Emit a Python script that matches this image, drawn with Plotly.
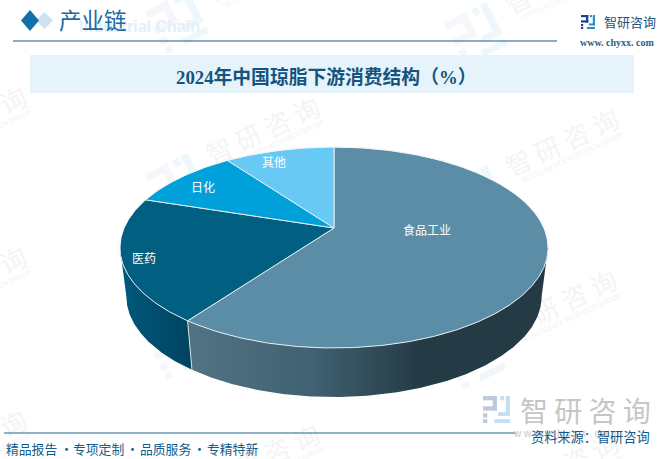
import numpy as np
import plotly.graph_objects as go

# data
categories = ["食品工业", "医药", "日化", "其他"]
shares = [60, 20, 10, 10]

top_colors = ["#5b8da7", "#015f82", "#00a1db", "#67c9f4"]
side_stops = [
    [[0, "#527384"], [0.35, "#3f6171"], [0.65, "#243a44"], [1, "#243a44"]],
    [[0, "#01587c"], [1, "#004361"]],
]
label_pos = [(427, 229), (144, 257), (203, 186), (274, 161)]

title = "2024年中国琼脂下游消费结构（%）"
slogans = ["精品报告", "专项定制", "品质服务", "专精特新"]
serif = "Liberation Serif, Noto Sans CJK SC"
sans = "Noto Sans CJK SC"

# tilted pie, perspective projection of a circle into page pixels
cx, cy = 334, 228
k = 0.194
ax, ay = 210, 96.7
depth = 49
shrink = 0.97


def rim(deg, lower=False):
    t = np.radians(deg)
    u, v = np.sin(t), np.cos(t)
    s = 1 + k * v
    x = ax * u / s
    y = ay * v / s
    if lower:
        return cx + x * shrink, cy - y + depth
    return cx + x, cy - y


def arc(a, b, lower=False):
    n = max(int(abs(b - a)), 2) * 2
    return rim(np.linspace(a, b, n), lower)


fig = go.Figure()
edges = np.cumsum([0] + shares) * 3.6

# visible wall of the cake
front_l = 360 - np.degrees(np.arccos(-k))
front_r = np.degrees(np.arccos(-k))
walls = [(front_r, edges[1]), (edges[1], front_l)]
for (a, b), stops in zip(walls, side_stops):
    xt, yt = arc(a, b)
    xb, yb = arc(b, a, True)
    fig.add_trace(go.Scatter(
        x=np.r_[xt, xb, xt[0]], y=np.r_[yt, yb, yt[0]], mode="lines",
        line=dict(width=0), fill="toself", hoverinfo="skip",
        fillgradient=dict(type="horizontal", colorscale=stops),
    ))

# seam between the two walls
x0, y0 = rim(edges[1])
x1, y1 = rim(edges[1], True)
fig.add_trace(go.Scatter(x=[x0, x1], y=[y0, y1], mode="lines", hoverinfo="skip",
                         line=dict(color="#d5dee3", width=1)))

# top face
for i, name in enumerate(categories):
    xs, ys = arc(edges[i], edges[i + 1])
    fig.add_trace(go.Scatter(
        x=np.r_[cx, xs, cx], y=np.r_[cy, ys, cy], mode="lines", name=name,
        line=dict(color="#e4ebef", width=1), fill="toself",
        fillcolor=top_colors[i], hoverinfo="skip",
    ))

# the upper half of the rim has no visible white stroke
xs, ys = arc(front_l, 360 + front_r)
fig.add_trace(go.Scatter(x=xs, y=ys, mode="lines", hoverinfo="skip",
                         line=dict(color="#ffffff", width=0.6)))

shapes = []
annos = []


def text(x, y, s, size, color, family=sans):
    annos.append(dict(x=x, y=y, text=s, showarrow=False, xanchor="center", yanchor="middle",
                      font=dict(size=size, color=color, family=family)))


def logo(x, y, size, c1, c2, angle=0, layer="above"):
    dark = [(0, 0, .52, .16), (.36, 0, .52, .54), (0, .38, .52, .54), (0, .64, .16, .8), (0, .86, .16, 1)]
    light = [(.64, 0, .78, .16), (.84, 0, 1, .74), (.56, .6, 1, .74), (.42, .86, 1, 1)]
    t = np.radians(angle)
    for rects, col in ((dark, c1), (light, c2)):
        for r in rects:
            pts = []
            for px, py in ((r[0], r[1]), (r[2], r[1]), (r[2], r[3]), (r[0], r[3])):
                dx, dy = (px - .5) * size, (py - .5) * size
                pts.append((x + dx * np.cos(t) - dy * np.sin(t), y + dx * np.sin(t) + dy * np.cos(t)))
            path = "M" + " L".join(f"{a:.1f},{b:.1f}" for a, b in pts) + " Z"
            shapes.append(dict(type="path", path=path, fillcolor=col, line_width=0, layer=layer))


# background watermarks
for wx, wy in [(-29, 123), (-29, 283), (-29, 446), (264, -30), (264, 133), (264, 296), (264, 460),
               (563, -18), (563, 145), (561, 306), (563, 469)]:
    logo(wx - 87, wy + 52, 48, "#f5f7fa", "#eef7fc", -27, "below")
    shapes.append(dict(type="rect", x0=wx - 70, x1=wx + 70, y0=wy - 70, y1=wy + 70, line_width=0,
                       layer="below", fillcolor="rgba(255,255,255,0)",
                       label=dict(text="智 研 咨 询", textangle=-25, textposition="middle center",
                                  font=dict(size=26, color="#f4f4f4", family=sans))))
    shapes.append(dict(type="rect", x0=wx - 60, x1=wx + 80, y0=wy - 50, y1=wy + 75,
                       line_width=0, layer="below", fillcolor="rgba(255,255,255,0)",
                       label=dict(text="INTELLIGENCE RESEARCH GROUP", textangle=-25,
                                  textposition="middle center",
                                  font=dict(size=7, color="#f2f2f2", family=sans))))

# header
shapes.append(dict(type="path", path="M36,20.5 L44.5,12 L53,20.5 L44.5,29 Z", fillcolor="#cfe3ef", line_width=0))
shapes.append(dict(type="path", path="M21,20.5 L30,10 L39,20.5 L30,31 Z", fillcolor="#1170ab", line_width=0))
shapes.append(dict(type="line", x0=13, x1=557, y0=41, y1=41, line=dict(color="#1a5a85", width=1)))
shapes.append(dict(type="rect", x0=30, x1=634, y0=55, y1=93, fillcolor="#e6f3fb", line_width=0, layer="below"))
text(139, 26, "<b>Industrial Chain</b>", 16, "#e3f0fa", "Liberation Sans")
text(93, 21, "产业链", 22.5, "#1c6aa3", serif)
text(326.5, 77, "<b>" + title + "</b>", 18.8, "#14547f", serif)

# top right brand
logo(588, 22, 14, "#27408b", "#2b8bd0")
text(629.5, 21, "智研咨询", 13, "#23537c")
text(617.5, 42, "<b>www. chyxx. com</b>", 10, "#2f6080", "Liberation Serif")

# bottom
logo(496.5, 409.5, 27, "#bcc9de", "#c5def1")
text(585, 410, "智 研 咨 询", 28, "#c6c6c6")
text(566, 433, "w w w . c h y x x . c o m", 10, "#c6c6c6", "Liberation Sans")
shapes.append(dict(type="line", x0=4, x1=516, y0=433, y1=433, line=dict(color="#1a6491", width=1)))
for s, sx in zip(slogans, [31.5, 98.5, 165.5, 232]):
    text(sx, 448.5, s, 12.8, "#0f5d8e")
for sx in [66, 132, 199]:
    text(sx, 448, "·", 13, "#0f5d8e")
text(590.5, 436, "资料来源：智研咨询", 13.2, "#0d5a8c")

# slice labels
for name, (lx, ly) in zip(categories, label_pos):
    text(lx, ly, name, 12, "#ffffff")

fig.update_layout(
    width=669, height=459, margin=dict(l=0, r=0, t=0, b=0), autosize=False,
    paper_bgcolor="white", plot_bgcolor="white", showlegend=False,
    xaxis=dict(range=[0, 669], visible=False, fixedrange=True),
    yaxis=dict(range=[459, 0], visible=False, fixedrange=True),
    shapes=shapes, annotations=annos,
)

fig.write_html("out.html", config={"displayModeBar": False},
               post_script="document.body.style.margin='0';")
